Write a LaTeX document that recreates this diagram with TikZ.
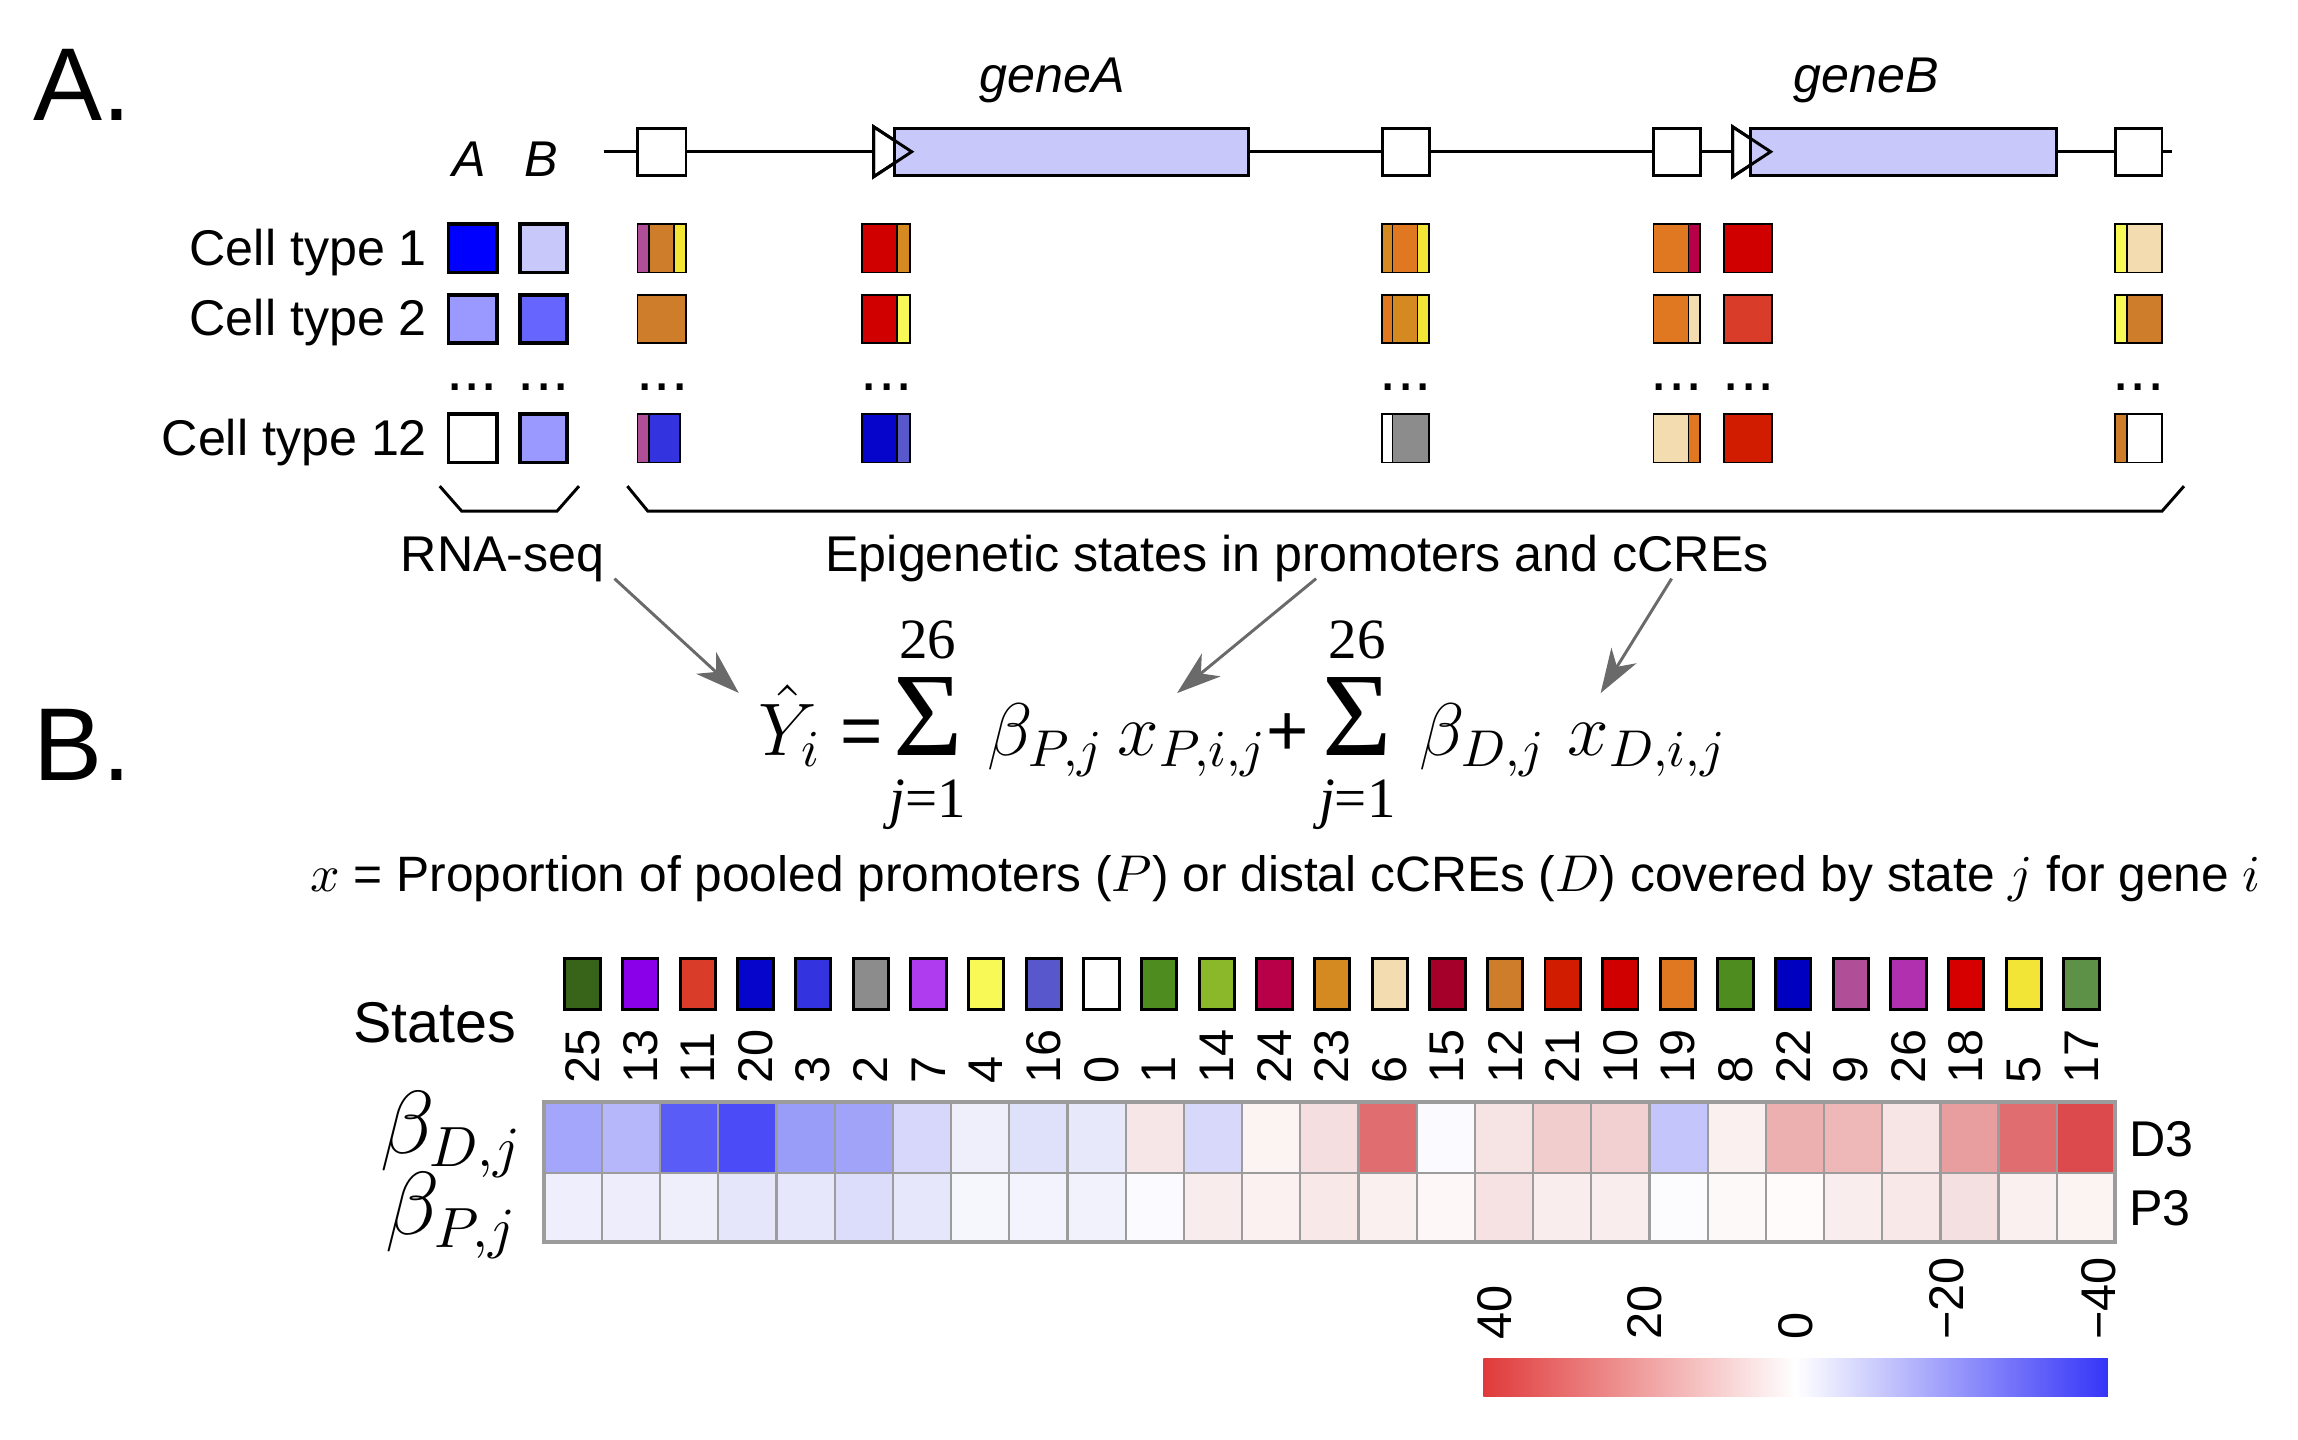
\documentclass[tikz,border=0pt]{standalone}
\usepackage{fontspec}
\setmainfont{Liberation Sans}
\newfontfamily\eqserif{Liberation Serif}
\usetikzlibrary{arrows.meta,calc}

\definecolor{genefill}{HTML}{C8C8FA}
\definecolor{arrowgray}{HTML}{6A6A6A}
\definecolor{gridgray}{HTML}{9C9C9C}
\definecolor{cbred}{HTML}{E03A3A}
\definecolor{cbblue}{HTML}{3535F8}
% state colours
\definecolor{st0}{HTML}{FFFFFF}
\definecolor{st1}{HTML}{4F8C20}
\definecolor{st2}{HTML}{8C8C8C}
\definecolor{st3}{HTML}{3333E0}
\definecolor{st4}{HTML}{F8F856}
\definecolor{st5}{HTML}{F3E535}
\definecolor{st6}{HTML}{F3DCB0}
\definecolor{st7}{HTML}{B03CF0}
\definecolor{st8}{HTML}{4F8C20}
\definecolor{st9}{HTML}{B04E98}
\definecolor{st10}{HTML}{D10000}
\definecolor{st11}{HTML}{D93D2A}
\definecolor{st12}{HTML}{CE7D2A}
\definecolor{st13}{HTML}{8A00E8}
\definecolor{st14}{HTML}{8AB82A}
\definecolor{st15}{HTML}{A5002A}
\definecolor{st16}{HTML}{5858CC}
\definecolor{st17}{HTML}{5D9148}
\definecolor{st18}{HTML}{D60000}
\definecolor{st19}{HTML}{DF7820}
\definecolor{st20}{HTML}{0505CC}
\definecolor{st21}{HTML}{D11C00}
\definecolor{st22}{HTML}{0000C0}
\definecolor{st23}{HTML}{D48A20}
\definecolor{st24}{HTML}{B80048}
\definecolor{st25}{HTML}{38641A}
\definecolor{st26}{HTML}{B030B0}

\begin{document}
\begin{tikzpicture}[x=0.0995mm,y=-0.1mm,
	track/.style={line width=0.2mm},
	site/.style={draw,line width=0.2mm,fill=white},
	seg/.style={draw,line width=0.12mm},
	rna/.style={draw,line width=0.26mm},
	lab/.style={inner sep=0pt,font=\fontsize{9.7}{11.6}\selectfont},
	big/.style={inner sep=0pt,font=\fontsize{20}{24}\selectfont},
	eq/.style={inner sep=0pt,font=\fontsize{14}{17}\selectfont},
	eqop/.style={inner sep=0pt,font=\fontsize{14}{17}\selectfont,anchor=base west},
	sigma/.style={inner sep=0pt,font=\fontsize{23}{26}\selectfont\eqserif,anchor=base},
	limit/.style={inner sep=0pt,font=\fontsize{11}{13}\selectfont\eqserif,anchor=base},
	dots/.style={inner sep=0pt,font=\fontsize{12}{14}\selectfont},
	feed/.style={draw=arrowgray,line width=0.2mm,-{Stealth[length=3mm,width=2mm,inset=0.9mm]}},
	statebox/.style={draw,line width=0.2mm,minimum width=2.4mm,minimum height=3.5mm,inner sep=0pt},
	statenum/.style={rotate=90,anchor=west,inner sep=0pt,font=\fontsize{9.4}{11}\selectfont},
	cell/.style={draw=gridgray,line width=0.15mm}]
	\useasboundingbox (0,0) rectangle (1567.8,977);
	%panel letters
		\node[big,anchor=base west] (panA) at (22,82) {A.};
		\node[big,anchor=base west] (panB) at (22,530) {B.};
	%gene track
		\draw[track] (412,103) -- (1482,103);
		\draw[site] (435,87) rectangle (468,119);
		\draw[site] (943,87) rectangle (975,119);
		\draw[site] (1128,87) rectangle (1160,119);
		\draw[site] (1443,87) rectangle (1475,119);
		\filldraw[track,fill=white] (596,86) -- (622,103) -- (596,120) -- cycle;
		\draw[track,fill=genefill] (610,87) rectangle (852,119);
		\draw[track] (596,86) -- (622,103) -- (596,120) -- cycle;
		\filldraw[track,fill=white] (1182,86) -- (1208,103) -- (1182,120) -- cycle;
		\draw[track,fill=genefill] (1194,87) rectangle (1403,119);
		\draw[track] (1182,86) -- (1208,103) -- (1182,120) -- cycle;
		\node[lab,anchor=base,font=\fontsize{9.7}{11.6}\selectfont\itshape] (gA) at (718,63) {geneA};
		\node[lab,anchor=base,font=\fontsize{9.7}{11.6}\selectfont\itshape] (gB) at (1273,63) {geneB};
	%expression columns
		\node[lab,anchor=base,font=\fontsize{9.7}{11.6}\selectfont\itshape] (colA) at (320,120) {A};
		\node[lab,anchor=base,font=\fontsize{9.7}{11.6}\selectfont\itshape] (colB) at (369,120) {B};
		\node[lab,anchor=base east] (ct1) at (292,180) {Cell type 1};
		\node[lab,anchor=base east] (ct2) at (292,228) {Cell type 2};
		\node[lab,anchor=base east] (ct12) at (292,309) {Cell type 12};
		\draw[rna,fill=blue] (306,152) rectangle (339,185);
		\draw[rna,fill=genefill] (355,152) rectangle (387,185);
		\draw[rna,fill=blue!40] (306,200) rectangle (339,233);
		\draw[rna,fill=blue!60] (355,200) rectangle (387,233);
		\draw[rna,fill=white] (306,281) rectangle (339,314);
		\draw[rna,fill=blue!40] (355,281) rectangle (387,314);
	%states in promoters and cCREs
		\foreach \xa/\xb/\ya/\c in {435/443/152/st9,443/460/152/st12,460/468/152/st5,
			435/468/200/st12,435/443/281/st9,443/464/281/st3,
			588/612/152/st10,612/621/152/st23,588/612/200/st10,612/621/200/st4,
			588/612/281/st20,612/621/281/st16,
			943/950/152/st23,950/967/152/st19,967/975/152/st5,
			943/950/200/st19,950/967/200/st23,967/975/200/st5,
			943/950/281/st0,950/975/281/st2,
			1128/1152/152/st19,1152/1160/152/st24,1128/1152/200/st19,1152/1160/200/st6,
			1128/1152/281/st6,1152/1160/281/st19,
			1176/1209/152/st10,1176/1209/200/st11,1176/1209/281/st21,
			1443/1451/152/st4,1451/1475/152/st6,1443/1451/200/st4,1451/1475/200/st12,
			1443/1451/281/st12,1451/1475/281/st0}
			\draw[seg,fill=\c] (\xa,\ya) rectangle (\xb,\ya+33);
		\foreach \xd [count=\k] in {322,371,452,605,959,1144,1193,1459}
			\node[dots] (dot\k) at (\xd,263) {...};
	%brackets + labels
		\draw[track] (300,330) -- (315,347) -- (380,347) -- (395,330);
		\draw[track] (428,330) -- (442,347) -- (1475,347) -- (1490,330);
		\node[lab,anchor=base] (rnaseq) at (343,388) {RNA-seq};
		\node[lab,anchor=base] (epi) at (885,388) {Epigenetic states in promoters and cCREs};
	%model
		\node[eq,anchor=base west] (yhat) at (517,513) {$\hat{Y}_i$};
		\node[eqop] (eqs) at (573,513) {=};
		\node[sigma] (sum1) at (633,513) {Σ};
		\node[limit] (top1) at (633,447) {26};
		\node[limit] (bot1) at (633,555) {\itshape j\upshape =1};
		\node[eq,anchor=base west] (bP) at (673,513) {$\beta_{P,j}$};
		\node[eq,anchor=base west] (xP) at (762,513) {$x_{P,i,j}$};
		\node[eqop] (plus) at (863,513) {+};
		\node[sigma] (sum2) at (926,513) {Σ};
		\node[limit] (top2) at (926,447) {26};
		\node[limit] (bot2) at (926,555) {\itshape j\upshape =1};
		\node[eq,anchor=base west] (bD) at (968,513) {$\beta_{D,j}$};
		\node[eq,anchor=base west] (xD) at (1069,513) {$x_{D,i,j}$};
		\draw[feed] ([shift={(6,-3)}]rnaseq.south east) -- ([shift={(-13,6)}]yhat.north west);
		\draw[feed] ($(epi.south west)!0.52!(epi.south east)+(0,-3)$) -- ([shift={(41,-20)}]xP.north west);
		\draw[feed] ($(epi.south west)!0.896!(epi.south east)+(0,-3)$) -- ([shift={(23,-20)}]xD.north west);
		\node[lab,anchor=base,font=\fontsize{9.6}{11.6}\selectfont] (defx) at (877,605)
			{$x$ = Proportion of pooled promoters ($P$) or distal cCREs ($D$) covered by state $j$ for gene $i$};
	%heatmap
		\node[lab,anchor=base east,font=\fontsize{11.1}{13}\selectfont] (states) at (353,708) {States};
		\foreach \s/\dcol/\pcol [count=\k from 0] in {25/A3A6FA/EEEEFC,13/B5B7FA/EDEDFC,11/5A5CF7/EFEFFC,
			20/4B4CF8/E6E6FB,3/9A9DF8/E7E7FB,2/A0A3F8/DCDDFA,7/D6D7FA/E7E7FB,4/EFEFFC/F6F6FD,
			16/DFE0FA/F3F3FD,0/E8E8FB/F2F2FD,1/F6E6E7/FBFBFF,14/D7D8FA/F8ECEC,24/FCF3F3/FBF1F1,
			23/F5DEDF/F8E8E8,6/E06E70/FBF0F0,15/FAFAFF/FDF7F7,12/F6E3E4/F6E2E3,21/F2CDCE/FAEDED,
			10/F2CFD0/FAEDED,19/C4C5FA/FCFCFF,8/FBF0F0/FEF9F9,22/EDB0B1/FFFBFB,9/EEB8B9/FAEDED,
			26/F7E5E6/F8E8E8,18/E89D9E/F5E0E1,5/E06E70/FBF0F0,17/DD4A4D/FCF3F3}{
			\edef\tmpdef{\noexpand\definecolor{dfill}{HTML}{\dcol}\noexpand\definecolor{pfill}{HTML}{\pcol}}
			\tmpdef
			\draw[cell,fill=dfill] ({371+39.7*\k},748) rectangle ++(39.7,48);
			\draw[cell,fill=pfill] ({371+39.7*\k},796) rectangle ++(39.7,47);
			\node[statebox,fill=st\s] (sq\s) at ({397.5+39.33*\k},668) {};
			\node[statenum] (num\s) at ({397.5+39.33*\k},736) {\s};
		}
		\draw[gridgray,line width=0.25mm] (371,748) rectangle (1443,843);
		\node[inner sep=0pt,font=\fontsize{16}{19}\selectfont,anchor=base] (betaD) at (308,783) {$\beta_{D,j}$};
		\node[inner sep=0pt,font=\fontsize{16}{19}\selectfont,anchor=base] (betaP) at (308,838) {$\beta_{P,j}$};
		\node[lab,anchor=base west] (rD) at (1452,785) {D3};
		\node[lab,anchor=base west] (rP) at (1452,832) {P3};
	%colour key
		\shade[left color=cbred,right color=cbblue,middle color=white] (1012,922) rectangle (1438,948);
		\node[statenum] (k1) at (1020,910) {40};
		\node[statenum] (k2) at (1122,910) {20};
		\node[statenum] (k3) at (1225,910) {0};
		\node[statenum] (k4) at (1328,910) {−20};
		\node[statenum] (k5) at (1432,910) {−40};
\end{tikzpicture}
\end{document}
